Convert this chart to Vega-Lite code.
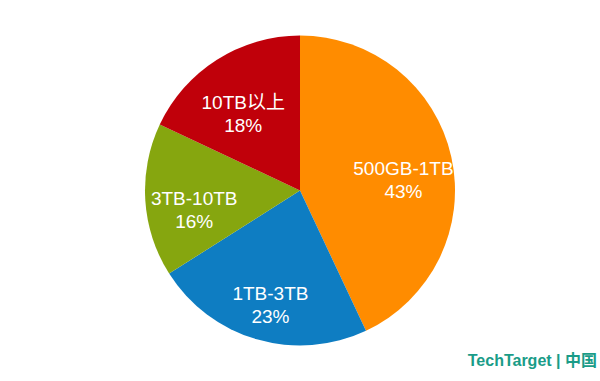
{
  "$schema": "https://vega.github.io/schema/vega-lite/v6.json",
  "width": 600,
  "height": 381,
  "padding": 0,
  "autosize": {"type": "none"},
  "background": "white",
  "config": {"view": {"stroke": null}},
  "title": {
    "text": "TechTarget | 中国",
    "orient": "bottom",
    "anchor": "end",
    "offset": -28,
    "dx": -3,
    "font": "Liberation Sans Narrow, Liberation Sans, Noto Sans CJK SC",
    "fontSize": 16,
    "fontWeight": "bold",
    "color": "#1A9C88"
  },
  "data": {
    "values": [
      {"idx": 1, "category": "500GB-1TB", "share": 43},
      {"idx": 2, "category": "1TB-3TB", "share": 23},
      {"idx": 3, "category": "3TB-10TB", "share": 16},
      {"idx": 4, "category": "10TB以上", "share": 18}
    ]
  },
  "encoding": {
    "theta": {"field": "share", "type": "quantitative", "stack": true},
    "order": {"field": "idx", "type": "quantitative"},
    "detail": {"field": "category", "type": "nominal"}
  },
  "layer": [
    {
      "mark": {"type": "arc", "outerRadius": 155},
      "encoding": {
        "color": {
          "field": "category",
          "type": "nominal",
          "scale": {
            "domain": ["500GB-1TB", "1TB-3TB", "3TB-10TB", "10TB以上"],
            "range": ["#FF8C00", "#0E7DC2", "#86A60F", "#C0000A"]
          },
          "legend": null
        }
      }
    },
    {
      "mark": {
        "type": "text",
        "radius": 106,
        "dy": 2,
        "fill": "white",
        "fontSize": 19,
        "font": "Liberation Sans, Noto Sans CJK SC",
        "lineBreak": "\n",
        "lineHeight": 23,
        "align": "center",
        "baseline": "middle"
      },
      "encoding": {
        "text": {"field": "label", "type": "nominal"}
      },
      "transform": [
        {"calculate": "datum.category + '\\n' + datum.share + '%'", "as": "label"}
      ]
    }
  ]
}
